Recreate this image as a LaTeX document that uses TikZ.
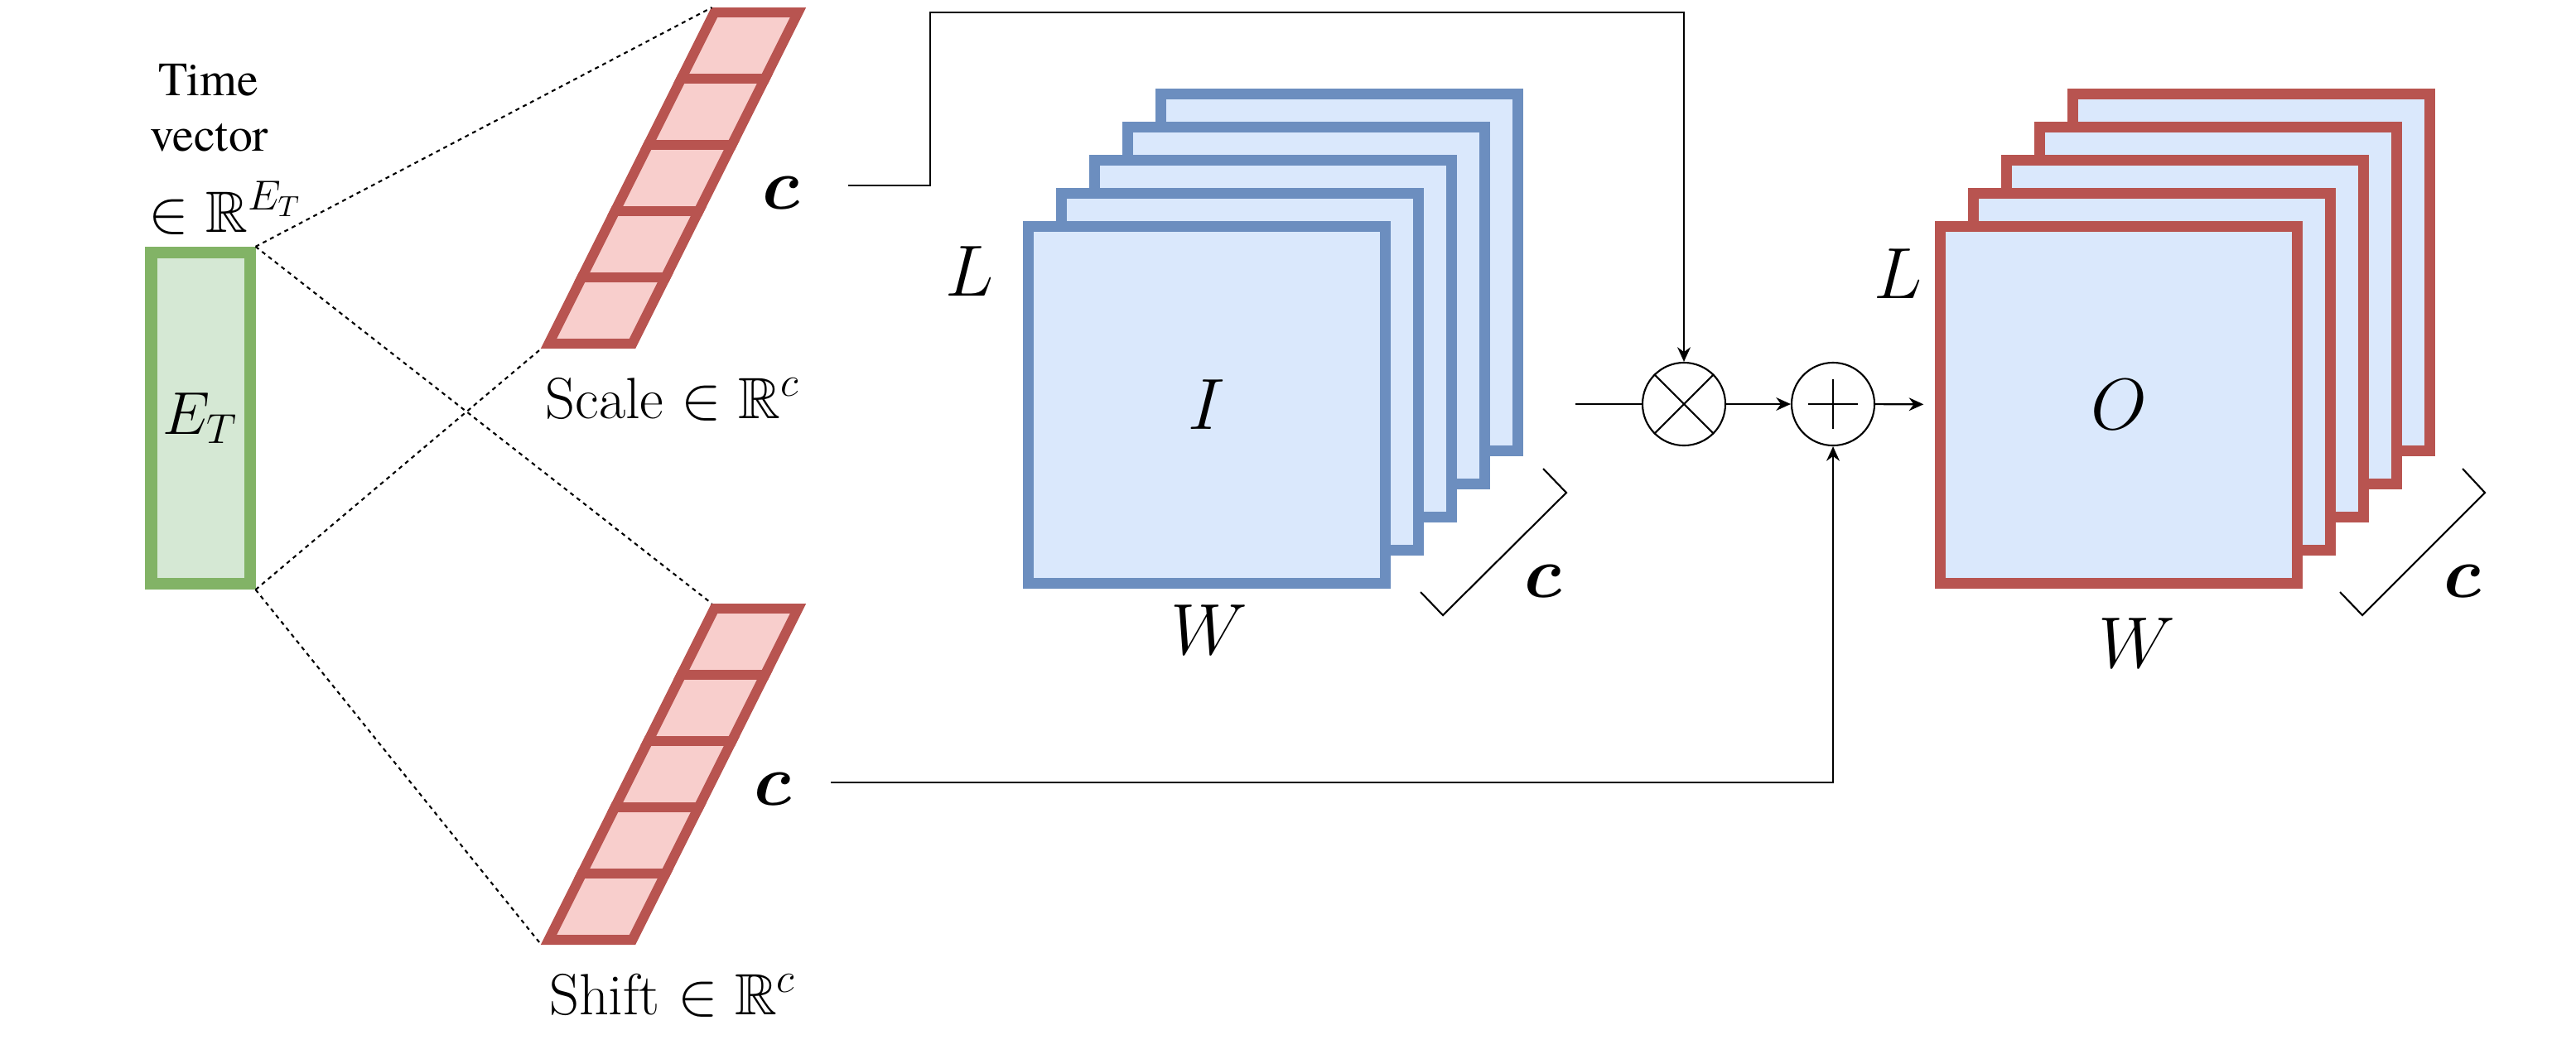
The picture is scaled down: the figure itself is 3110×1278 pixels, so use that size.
\documentclass[tikz,border=0pt]{standalone}
\usepackage{amsmath}
\usepackage{amssymb}
\usepackage{fontspec}
\newfontfamily\tvserif{texgyretermes-regular.otf}
\usetikzlibrary{arrows.meta}
\definecolor{bluefill}{HTML}{DAE8FC}
\definecolor{bluedraw}{HTML}{6C8EBF}
\definecolor{redfill}{HTML}{F8CECC}
\definecolor{reddraw}{HTML}{B85450}
\definecolor{greenfill}{HTML}{D5E8D4}
\definecolor{greendraw}{HTML}{82B366}

\begin{document}
\begin{tikzpicture}[x=0.01cm, y=-0.01cm,
      layer/.style={rectangle, line width=3.7pt, fill=bluefill, minimum size=4.3cm, inner sep=0pt, font=\fontsize{26}{31}\selectfont},
      ilayer/.style={layer, draw=bluedraw}, olayer/.style={layer, draw=reddraw},
      cell/.style={rectangle, draw=reddraw, fill=redfill, line width=3.4pt, minimum width=1.01cm, minimum height=0.8cm, inner sep=0pt, transform shape},
      op/.style={circle, draw=black, line width=0.6pt, minimum size=1cm, inner sep=0pt},
      big/.style={font=\fontsize{26}{31}\selectfont},
      mid/.style={font=\fontsize{20}{24}\selectfont},
      tvtext/.style={anchor=base, inner sep=0pt, font=\tvserif\fontsize{16.4}{20}\selectfont},
      thin/.style={line width=0.6pt},
      pfeil/.style={thin, -{Stealth[length=5pt,width=4.5pt]}},
      leit/.style={thin, dash pattern=on 1.4pt off 1.4pt}]

\useasboundingbox (0,0) rectangle (3110,1278);

\node[mid, draw=greendraw, fill=greenfill, line width=4pt, minimum width=1.19cm, minimum height=4cm, inner sep=0pt] (et) at (242,505) {$E_T$};
\node[tvtext] (tv1) at (252,115) {Time};
\node[tvtext] (tv2) at (253,182) {vector};
\node[mid, anchor=base, inner sep=0pt] (tv3) at (272,280) {$\in\mathbb{R}^{E_T}$};

\begin{scope}[shift={(813,215)}, xslant=0.5]
\node[cell] (sc1) at (0,-160) {};
\node[cell] (sc2) at (0,-80) {};
\node[cell] (sc3) at (0,0) {};
\node[cell] (sc4) at (0,80) {};
\node[cell] (sc5) at (0,160) {};
\end{scope}
\begin{scope}[shift={(813,935)}, xslant=0.5]
\node[cell] (sh1) at (0,-160) {};
\node[cell] (sh2) at (0,-80) {};
\node[cell] (sh3) at (0,0) {};
\node[cell] (sh4) at (0,80) {};
\node[cell] (sh5) at (0,160) {};
\end{scope}
\node[big] (csc) at (943,233) {$\boldsymbol{c}$};
\node[big] (csh) at (933,953) {$\boldsymbol{c}$};
\node[mid, anchor=base] (scl) at (812,505) {Scale $\in\mathbb{R}^c$};
\node[mid, anchor=base] (shl) at (812,1225) {Shift $\in\mathbb{R}^c$};

\draw[leit] (et.north east) -- (sc1.north west);
\draw[leit] (et.north east) -- (sh1.north west);
\draw[leit] (et.south east) -- (sc5.south west);
\draw[leit] (et.south east) -- (sh5.south west);

\node[ilayer] (i5) at (1617,329) {};
\node[ilayer] (i4) at (1577,369) {};
\node[ilayer] (i3) at (1537,409) {};
\node[ilayer] (i2) at (1497,449) {};
\node[ilayer] (i1) at (1457,489) {$I$};
\node[big] (li) at (1171,328) {$L$};
\node[big] (wi) at (1460,761) {$W$};
\node[big] (ci) at (1863,702) {$\boldsymbol{c}$};
\draw[thin] (1863,566) -- (1891,595) -- (1742,743) -- (1715,715);

\node[olayer] (o5) at (2718,329) {};
\node[olayer] (o4) at (2678,369) {};
\node[olayer] (o3) at (2638,409) {};
\node[olayer] (o2) at (2598,449) {};
\node[olayer] (o1) at (2558,489) {$O$};
\node[big] (lo) at (2292,331) {$L$};
\node[big] (wo) at (2580,777) {$W$};
\node[big] (co) at (2973,702) {$\boldsymbol{c}$};
\draw[thin] (2973,566) -- (3000,595) -- (2852,743) -- (2825,715);

\node[op] (mul) at (2033,488) {};
\node[op] (add) at (2213,488) {};
\draw[thin] (mul.north west) -- (mul.south east) (mul.north east) -- (mul.south west);
\draw[thin] ([xshift=-0.3cm]add.center) -- ([xshift=0.3cm]add.center) ([yshift=-0.3cm]add.center) -- ([yshift=0.3cm]add.center);

\coordinate (scout) at (1024,224);
\coordinate (shout) at (1003,945);
\coordinate (iout) at (1902,488);
\draw[pfeil] (scout) -- (1123,224) -- (1123,15) -| (mul);
\draw[thin] (iout) -- (mul);
\draw[pfeil] (mul) -- (add);
\draw[pfeil, shorten >=4pt] (add) -- (o1);
\draw[pfeil] (shout) -| (add);

\end{tikzpicture}
\end{document}
